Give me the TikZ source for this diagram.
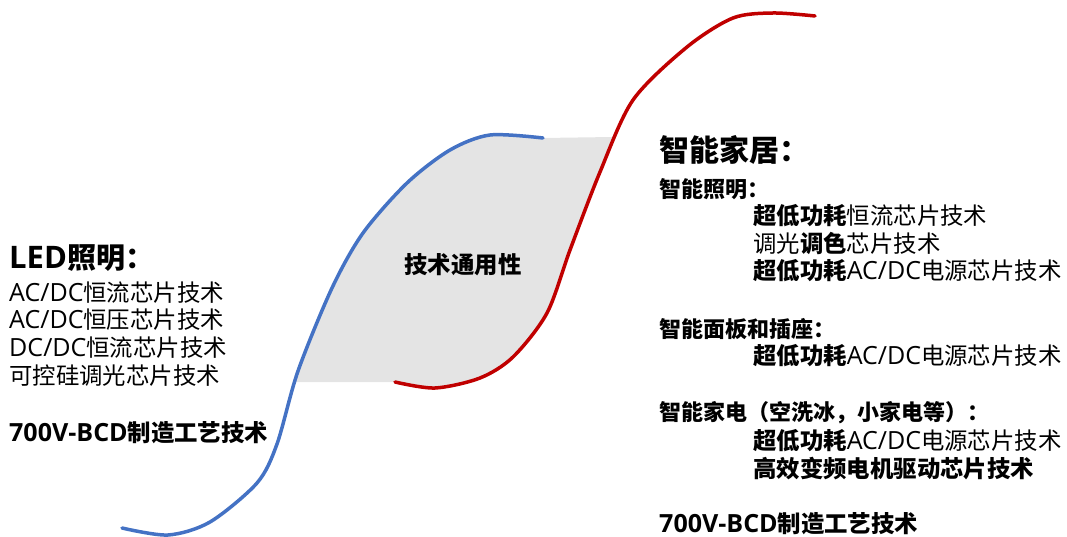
\documentclass[tikz,border=0pt]{standalone}
\usepackage{fontspec}
\setmainfont{Noto Sans CJK SC}
\newfontfamily\latfont{Open Sans}[Scale=1.07]
\newcommand\latn[1]{{\latfont #1}}
\definecolor{cblue}{RGB}{68,114,196}
\definecolor{cred}{RGB}{192,0,0}
\definecolor{shadegray}{RGB}{228,228,228}
\begin{document}
\begin{tikzpicture}[x=1pt,y=-1pt,
  curve/.style={line width=3.5pt, line cap=round},
  txt/.style={anchor=west, inner sep=0pt, font=\fontsize{23.4}{27.5}\selectfont},
  boldtxt/.style={txt, font=\fontsize{23.4}{27.5}\selectfont\bfseries},
  bigtxt/.style={anchor=west, inner sep=0pt, font=\fontsize{29}{34}\selectfont\bfseries},
  subhead/.style={anchor=west, inner sep=0pt, font=\fontsize{22}{27.5}\selectfont\bfseries}]
\useasboundingbox (0,0) rectangle (1067,537);
% shaded overlap region
\fill[shadegray] plot[smooth, tension=0.5] coordinates {(295,382) (332,288) (363,233) (407,183) (450,150) (490,135) (543,138)}
  -- (613,137)
  -- plot[smooth, tension=0.5] coordinates {(613,137) (600,172) (570,250) (547,313) (513,357) (480,378) (435,388) (395,382)}
  -- cycle;
% blue curve
\draw[curve, cblue] plot[smooth, tension=0.5] coordinates {(122,528) (168,535) (210,522) (257,483) (277,444) (298,371) (332,288) (363,233) (407,183) (450,150) (490,135) (543,138)};
% red curve
\draw[curve, cred] plot[smooth, tension=0.5] coordinates {(395,382) (435,388) (480,378) (513,357) (547,313) (570,250) (600,172) (633,100) (687,47) (733,18) (773,13) (815,16)};
% middle label
\node[boldtxt, anchor=center] (mid) at (463,265) {技术通用性};
% left text
\node[bigtxt] (led) at (9,258) {\latn{LED}照明：};
\node[txt] (l1) at (9,293) {\latn{AC/DC}恒流芯片技术};
\node[txt] (l2) at (9,320) {\latn{AC/DC}恒压芯片技术};
\node[txt] (l3) at (9,348) {\latn{DC/DC}恒流芯片技术};
\node[txt] (l4) at (9,376) {可控硅调光芯片技术};
\node[boldtxt] (l5) at (9,433) {\latn{700V-BCD}制造工艺技术};
% right text
\node[bigtxt, font=\fontsize{30}{34}\selectfont\bfseries] (home) at (659,150) {智能家居：};
\node[subhead] (r1) at (659,189) {智能照明：};
\node[txt] (r1a) at (753,216) {\textbf{超低功耗}恒流芯片技术};
\node[txt] (r1b) at (753,243) {调光\textbf{调色}芯片技术};
\node[txt] (r1c) at (753,271) {\textbf{超低功耗}\latn{AC/DC}电源芯片技术};
\node[subhead] (r2) at (659,329) {智能面板和插座：};
\node[txt] (r2a) at (753,356) {\textbf{超低功耗}\latn{AC/DC}电源芯片技术};
\node[subhead] (r3) at (659,413) {智能家电（空洗冰，小家电等）：};
\node[txt] (r3a) at (753,441) {\textbf{超低功耗}\latn{AC/DC}电源芯片技术};
\node[boldtxt] (r3b) at (753,469) {高效变频电机驱动芯片技术};
\node[boldtxt] (r4) at (659,524) {\latn{700V-BCD}制造工艺技术};
\end{tikzpicture}
\end{document}
